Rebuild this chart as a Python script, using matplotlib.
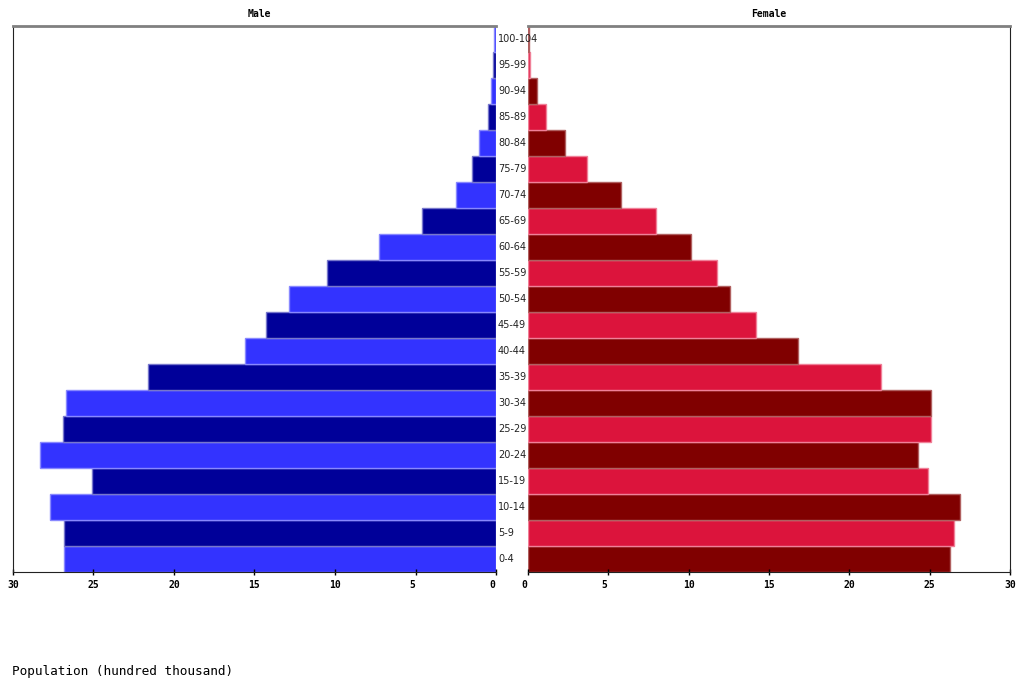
import matplotlib
matplotlib.use("Agg")
import matplotlib.pyplot as plt
import matplotlib.transforms as mtransforms
import numpy as np

age_groups = ["0-4", "5-9", "10-14", "15-19", "20-24", "25-29", "30-34", "35-39",
              "40-44", "45-49", "50-54", "55-59", "60-64", "65-69", "70-74", "75-79",
              "80-84", "85-89", "90-94", "95-99", "100-104"]
male = [26.85, 26.85, 27.7, 25.1, 28.35, 26.9, 26.7, 21.6, 15.58, 14.3, 12.86, 10.48,
        7.25, 4.59, 2.47, 1.5, 1.04, 0.5, 0.31, 0.17, 0.15]
female = [26.25, 26.5, 26.9, 24.9, 24.3, 25.1, 25.1, 21.98, 16.82, 14.22, 12.58, 11.77,
          10.13, 7.94, 5.76, 3.68, 2.33, 1.13, 0.56, 0.14, 0.08]
xticks = [0, 5, 10, 15, 20, 25, 30]

male_colors = ["#3333FF", "#000099"]
male_edges = ["#8888FF", "#7777CC"]
female_colors = ["#800000", "#DC143C"]
female_edges = ["#B06060", "#F08098"]

W, H = 1023, 682
fig = plt.figure(figsize=(W / 100, H / 100), dpi=100)

def ax_rect(x0, x1, y0, y1):
    return [x0 / W, (H - y1) / H, (x1 - x0) / W, (y1 - y0) / H]

axL = fig.add_axes(ax_rect(13, 496, 26, 572))
axR = fig.add_axes(ax_rect(528, 1010, 26, 572))

y = np.arange(len(age_groups))
mc = [male_colors[i % 2] for i in range(len(y))]
me = [male_edges[i % 2] for i in range(len(y))]
fc = [female_colors[i % 2] for i in range(len(y))]
fe = [female_edges[i % 2] for i in range(len(y))]

axL.barh(y, male, height=1.0, color=mc, edgecolor=me, linewidth=1.0)
axR.barh(y, female, height=1.0, color=fc, edgecolor=fe, linewidth=1.0)

tickfont = dict(family="DejaVu Sans Mono", size=7, weight="bold")
shift = mtransforms.ScaledTranslation(-2.5 / 100, 0, fig.dpi_scale_trans)
for ax, lim in ((axL, (30, 0)), (axR, (0, 30))):
    ax.set_xlim(*lim)
    ax.set_ylim(-0.5, len(age_groups) - 0.5)
    ax.set_yticks([])
    ax.set_xticks(xticks)
    ax.set_xticklabels([f"{t:<2d}" for t in xticks], fontdict=tickfont)
    for lab in ax.get_xticklabels():
        lab.set_transform(lab.get_transform() + shift)
    ax.tick_params(axis="x", direction="inout", length=5, width=1, pad=3, colors="black")
    ax.spines["top"].set_color("#808080")
    ax.spines["top"].set_linewidth(2)
    ax.spines["bottom"].set_color("#222222")
    ax.spines["left"].set_color("#222222")
    ax.spines["right"].set_color("#222222")

axL.spines["right"].set_visible(False)
axR.spines["left"].set_visible(False)

# Age labels between the panels
for i, lab in enumerate(age_groups):
    yc = 26 + (len(age_groups) - 1 - i + 0.5) * 26
    fig.text(498 / W, 1 - yc / H, lab, ha="left", va="center",
             fontsize=7, family="DejaVu Sans", color="#222222")

fig.text(259 / W, 1 - 14 / H, "Male", ha="center", va="center",
         family="DejaVu Sans Mono", fontsize=7, weight="bold")
fig.text(769 / W, 1 - 14 / H, "Female", ha="center", va="center",
         family="DejaVu Sans Mono", fontsize=7, weight="bold")
fig.text(12 / W, 1 - 671 / H, "Population (hundred thousand)", ha="left", va="center",
         family="DejaVu Sans Mono", fontsize=9.2)

fig.savefig("out.png", dpi=100)
